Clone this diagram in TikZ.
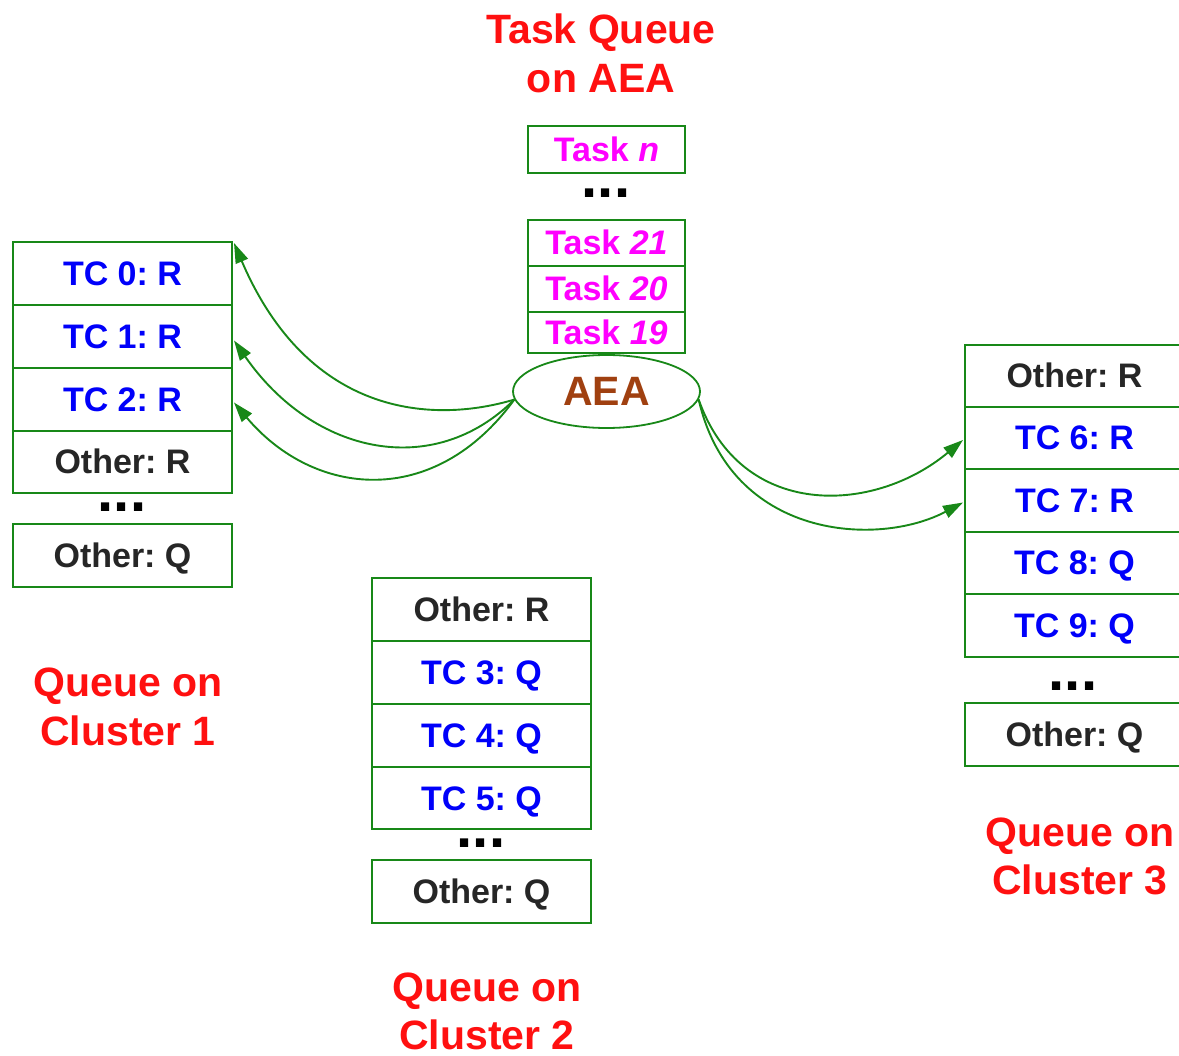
\documentclass[tikz,border=0pt]{standalone}
\usepackage{fontspec}
\setmainfont{Liberation Sans}
\usetikzlibrary{shapes.geometric,arrows.meta,calc}
\frenchspacing

\definecolor{boxgreen}{RGB}{24,136,24}
\definecolor{aeabrown}{RGB}{160,64,16}
\definecolor{taskpink}{RGB}{255,0,255}
\definecolor{tcblue}{RGB}{0,0,250}
\definecolor{titlered}{RGB}{255,16,16}

\begin{document}
\begin{tikzpicture}[x=1pt,y=-1pt,
  cell/.style={draw=boxgreen, line width=2pt, fill=white, minimum width=219pt,
    minimum height=63pt, inner sep=0pt, text height=24pt, text depth=0pt,
    font=\fontsize{34}{34}\selectfont\bfseries},
  tc/.style={cell, text=tcblue},
  other/.style={cell, text=black!85},
  taskbox/.style={draw=boxgreen, line width=2pt, fill=white, minimum width=157pt,
    inner sep=0pt, text height=24pt, text depth=0pt, text=taskpink,
    font=\fontsize{34}{34}\selectfont\bfseries},
  dots/.style={anchor=base, inner sep=0pt, text height=9pt, text depth=0pt,
    font=\fontsize{58}{58}\selectfont\bfseries},
  title/.style={anchor=base, inner sep=0pt, text=titlered,
    font=\fontsize{41}{41}\selectfont\bfseries},
  flow/.style={draw=boxgreen, line width=1.9pt,
    -{Triangle[length=20pt,width=13pt]}}
]
\useasboundingbox (0,0) rectangle (1179,1056);

% task queue on the AEA
\node[title] (tqa) at (601,44) {Task Queue};
\node[title] (tqb) at (601,93) {on AEA};
\node[taskbox, minimum height=47pt] (tn) at (606.5,149.5) {Task \textit{n}};
\node[dots] (tdots) at (606,198) {...};
\node[taskbox, minimum height=46pt] (t21) at (606.5,243) {Task \textit{21}};
\node[taskbox, minimum height=46pt] (t20) at (606.5,289) {Task \textit{20}};
\node[taskbox, minimum height=41pt] (t19) at (606.5,332.5) {Task \textit{19}};
\node[ellipse, draw=boxgreen, line width=1.8pt, fill=white, minimum width=187pt,
  minimum height=73pt, inner sep=0pt, text=aeabrown,
  font=\fontsize{41}{41}\selectfont\bfseries] (aea) at (606.5,391.5) {AEA};

% queue on cluster 1
\node[tc] (c1r0) at (122.5,273.5) {TC 0: R};
\node[tc] (c1r1) at (122.5,336.5) {TC 1: R};
\node[tc] (c1r2) at (122.5,399.5) {TC 2: R};
\node[other, minimum height=62pt] (c1r3) at (122.5,462) {Other: R};
\node[dots] (c1dots) at (122,512) {...};
\node[other] (c1q) at (122.5,555.5) {Other: Q};
\node[title] (c1la) at (128,696) {Queue on};
\node[title] (c1lb) at (128,745) {Cluster 1};

% queue on cluster 2
\node[other] (c2r0) at (481.5,609.5) {Other: R};
\node[tc] (c2r1) at (481.5,672.5) {TC 3: Q};
\node[tc] (c2r2) at (481.5,735.5) {TC 4: Q};
\node[tc, minimum height=62pt] (c2r3) at (481.5,798) {TC 5: Q};
\node[dots] (c2dots) at (481,847) {...};
\node[other] (c2q) at (481.5,891) {Other: Q};
\node[title] (c2la) at (487,1001) {Queue on};
\node[title] (c2lb) at (487,1049) {Cluster 2};

% queue on cluster 3
\node[other, minimum height=62pt] (c3r0) at (1074.5,376) {Other: R};
\node[tc, minimum height=62pt] (c3r1) at (1074.5,438) {TC 6: R};
\node[tc] (c3r2) at (1074.5,500.5) {TC 7: R};
\node[tc, minimum height=62pt] (c3r3) at (1074.5,563) {TC 8: Q};
\node[tc] (c3r4) at (1074.5,625.5) {TC 9: Q};
\node[dots] (c3dots) at (1073,690) {...};
\node[other] (c3q) at (1074.5,734.5) {Other: Q};
\node[title] (c3la) at (1080,846) {Queue on};
\node[title] (c3lb) at (1080,894) {Cluster 3};

% dispatch from the AEA to the task containers
\draw[flow] (aea.185) .. controls +(-80,24) and +(75,175) .. ($(c1r0.north east)+(1,2)$);
\draw[flow] (aea.185) .. controls +(-80,80) and +(80,115) .. ($(c1r1.east)+(1,4)$);
\draw[flow] (aea.185) .. controls +(-80,110) and +(80,95) .. ($(c1r2.east)+(1,3)$);
\draw[flow] (aea.-5) .. controls +(42,120) and +(-90,75) .. ($(c3r1.west)+(-1,2)$);
\draw[flow] (aea.-5) .. controls +(32,140) and +(-85,45) .. ($(c3r2.west)+(-1,2)$);
\end{tikzpicture}
\end{document}
